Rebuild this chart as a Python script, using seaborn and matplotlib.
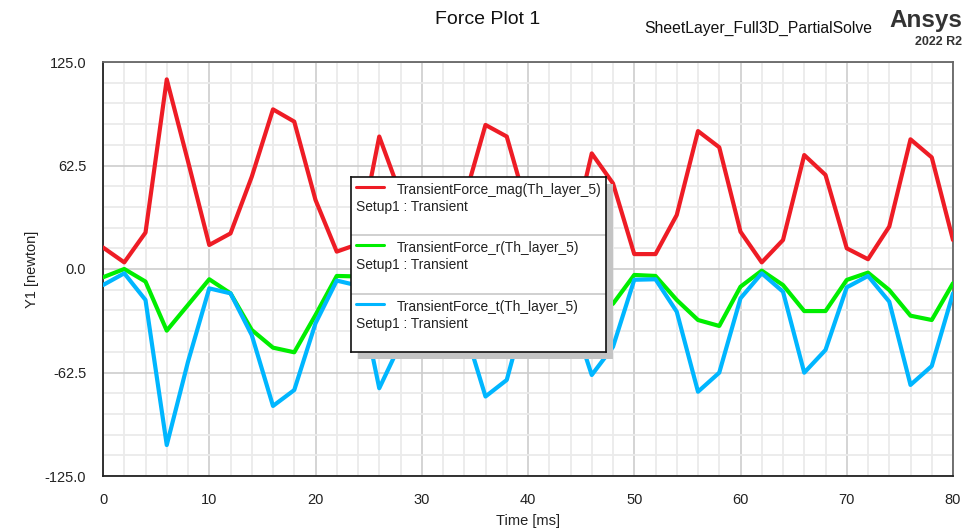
import numpy as np
import pandas as pd
import seaborn as sns
import matplotlib.pyplot as plt
from matplotlib.patches import Rectangle
from matplotlib.ticker import MultipleLocator, FormatStrFormatter

# Datos (paso de 2 ms)
time_ms = list(range(0, 81, 2))
force_mag = [13, 4, 22, 114.5, 65, 14.5, 21.5, 55.7, 96.4, 89, 41.7, 10.5, 15, 80, 45,
             12, 15, 42, 87, 80, 35, 8, 15, 69.8, 51.7, 9, 9, 32.6, 83.3, 73.5, 22.5,
             4, 17.5, 68.8, 56.8, 12.5, 5.9, 25.6, 78.3, 67.4, 17.5]
force_r = [-5, 0, -7.6, -37.2, -21.7, -6.2, -14.7, -36.8, -47.5, -50.3, -27.8, -4.2,
           -4.5, -20, -30, -15, -3, -10, -28, -32, -12, -2, -8, -25, -21, -3.6, -4.2,
           -18.7, -30.8, -34.4, -10.7, -1.0, -9.7, -25.4, -25.4, -6.6, -2.2, -12.7,
           -28.2, -30.8, -8.6]
force_t = [-9.7, -2.6, -18.7, -106.3, -56, -11.7, -14.7, -39.9, -82.7, -73.1, -32.8,
           -7, -10, -72, -45, -10, -6, -35, -77, -67, -20, -5, -25, -64, -47, -6.5,
           -6.2, -25.8, -74.1, -62.6, -17.7, -2.6, -13.7, -62.6, -48.9, -11.1, -4.2,
           -19.7, -70, -58.6, -14.7]

series_names = ["TransientForce_mag(Th_layer_5)", "TransientForce_r(Th_layer_5)",
                "TransientForce_t(Th_layer_5)"]
colores = ["#ee1c25", "#00ee00", "#00b6ff"]

df = pd.DataFrame({
    "Time": time_ms * 3,
    "Force": force_mag + force_r + force_t,
    "Serie": [series_names[0]] * len(time_ms) + [series_names[1]] * len(time_ms)
             + [series_names[2]] * len(time_ms),
})

sns.set_style("white")
plt.rcParams["font.family"] = ["Liberation Sans", "DejaVu Sans"]

W, H = 975, 528
fig = plt.figure(figsize=(W / 100, H / 100), dpi=100)
ax = fig.add_axes([103 / W, 1 - 476 / H, 850 / W, 414 / H])

sns.lineplot(data=df, x="Time", y="Force", hue="Serie", palette=colores,
             linewidth=3.0, sort=False, legend=False, ax=ax, zorder=3)

ax.set_xlim(0, 80)
ax.set_ylim(-125, 125)
ax.xaxis.set_major_locator(MultipleLocator(10))
ax.xaxis.set_minor_locator(MultipleLocator(2))
ax.yaxis.set_major_locator(MultipleLocator(62.5))
ax.yaxis.set_minor_locator(MultipleLocator(12.5))
ax.yaxis.set_major_formatter(FormatStrFormatter("%.1f"))
ax.grid(which="minor", color="#ebebeb", linewidth=1.3, zorder=0)
ax.grid(which="major", color="#cdcdcd", linewidth=1.2, zorder=0)
ax.set_axisbelow(True)

ax.tick_params(axis="y", which="major", direction="out", length=9, width=1.2,
               color="#333333", labelsize=10.5, pad=3)
ax.tick_params(axis="y", which="minor", direction="out", length=5, width=1.2,
               color="#333333")
ax.tick_params(axis="x", which="major", direction="out", length=8, width=1.2,
               color="#333333", labelsize=10.5, pad=4)
ax.tick_params(axis="x", which="minor", direction="out", length=4, width=1.2,
               color="#333333")
for lab in ax.get_xticklabels() + ax.get_yticklabels():
    lab.set_color("#222222")

for s in ["left", "bottom"]:
    ax.spines[s].set_color("#222222")
    ax.spines[s].set_linewidth(1.3)
for s in ["top", "right"]:
    ax.spines[s].set_color("#666666")
    ax.spines[s].set_linewidth(1.3)

ax.set_xlabel("Time [ms]", fontsize=10.5, color="#222222", labelpad=5)
ax.set_ylabel("Y1 [newton]", fontsize=10.5, color="#222222", labelpad=4)

# Cabecera
fig.text(488 / W, 1 - 19 / H, "Force Plot 1", ha="center", va="center",
         fontsize=14, color="#111111")
fig.text(758 / W, 1 - 28 / H, "SheetLayer_Full3D_PartialSolve", ha="center", va="center",
         fontsize=11.3, color="#111111")
fig.text(962 / W, 1 - 20 / H, "Ansys", ha="right", va="center",
         fontsize=17.5, weight="bold", color="#333333")
fig.text(962 / W, 1 - 42 / H, "2022 R2", ha="right", va="center",
         fontsize=9, weight="bold", color="#333333")

# Leyenda tipo Ansys con sombra
lx, ly, lw, lh = 351, 177, 255, 175
fig.patches.append(Rectangle(((lx + 7) / W, 1 - (ly + lh + 7) / H), lw / W, lh / H,
                             transform=fig.transFigure, facecolor="#c4c4c4",
                             edgecolor="none", zorder=4))
lax = fig.add_axes([lx / W, 1 - (ly + lh) / H, lw / W, lh / H], zorder=5)
lax.set_xlim(0, lw)
lax.set_ylim(lh, 0)
lax.set_xticks([])
lax.set_yticks([])
for s in lax.spines.values():
    s.set_color("#111111")
    s.set_linewidth(1.2)
paso = lh / 3
for i, (nombre, col) in enumerate(zip(series_names, colores)):
    off = i * paso
    lax.plot([5, 33], [10 + off, 10 + off], color=col, linewidth=2.2)
    lax.text(46, 13 + off, nombre, ha="left", va="center", fontsize=9.9, color="#222222")
    lax.text(5, 30 + off, "Setup1 : Transient", ha="left", va="center", fontsize=9.9,
             color="#222222")
    if i < 2:
        lax.plot([0, lw], [off + paso, off + paso], color="#c8c8c8", linewidth=1.2)

fig.savefig("out.png", dpi=100)
